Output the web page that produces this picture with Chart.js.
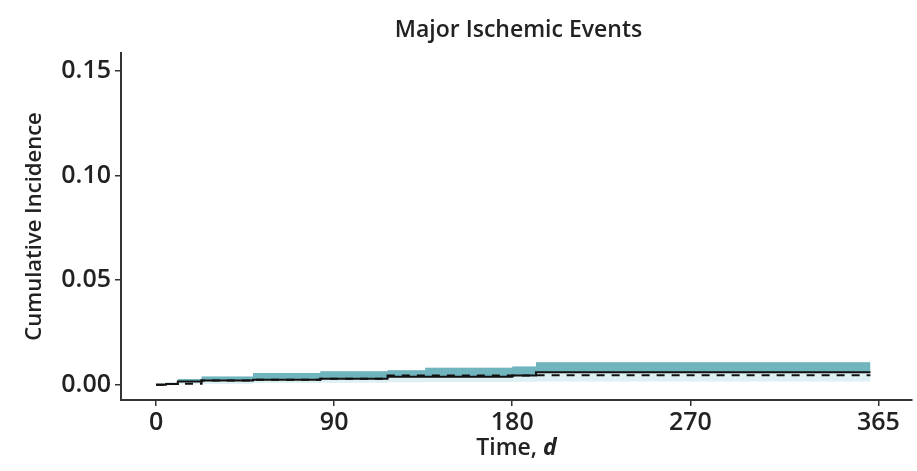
<!DOCTYPE html>
<html>
<head>
<meta charset="utf-8">
<script src="https://cdn.jsdelivr.net/npm/chart.js@4/dist/chart.umd.min.js"></script>
<style>
  html, body { margin: 0; padding: 0; background: #fff; }
  #wrap { width: 917px; height: 471px; }
</style>
</head>
<body>
<div id="wrap"><canvas id="chart" width="917" height="471"></canvas></div>
<script>
// step times (days) shared by all curves
var days = [0, 5, 11, 23, 49, 83, 117, 136, 180, 192, 361];
// cumulative incidence, solid group
var solid = [0, 0.0003, 0.0015, 0.0020, 0.0024, 0.0029, 0.0038, 0.0038, 0.0044, 0.0060, 0.0060];
// cumulative incidence, dashed group
var dashed = [0, 0.0004, 0.0005, 0.0020, 0.0024, 0.0029, 0.0044, 0.0044, 0.0044, 0.0045, 0.0045];
// confidence band
var upper = [0.0005, 0.0010, 0.0028, 0.0040, 0.0056, 0.0064, 0.0069, 0.0081, 0.0087, 0.0108, 0.0108];
var lower = [-0.0003, -0.0002, 0.0002, 0.0004, 0.0008, 0.0010, 0.0012, 0.0013, 0.0014, 0.0016, 0.0016];

var xTicks = [0, 90, 180, 270, 365];
var yTicks = [0, 0.05, 0.10, 0.15];

function pts(vals) {
  return days.map(function (d, i) { return { x: d, y: vals[i] }; });
}

var FONT = "'Open Sans', 'Noto Sans', sans-serif";
var INK = "#222";

var titlesPlugin = {
  id: "titles",
  afterDraw: function (chart) {
    var ctx = chart.ctx;
    var area = chart.chartArea;
    var cx = (area.left + area.right) / 2;
    ctx.save();
    ctx.fillStyle = INK;
    ctx.textBaseline = "middle";
    ctx.textAlign = "center";
    ctx.font = "600 23px " + FONT;
    ctx.fillText("Major Ischemic Events", cx + 2, 30);

    // x axis title with italic d
    ctx.font = "600 23px " + FONT;
    var a = "Time, ";
    var wa = ctx.measureText(a).width;
    ctx.font = "italic 700 23px " + FONT;
    var wb = ctx.measureText("d").width;
    var start = cx - (wa + wb) / 2;
    ctx.textAlign = "left";
    ctx.font = "600 23px " + FONT;
    ctx.fillText(a, start, 448);
    ctx.font = "italic 700 23px " + FONT;
    ctx.fillText("d", start + wa, 448);
    ctx.restore();
  }
};

var ctx = document.getElementById("chart").getContext("2d");
var chart = new Chart(ctx, {
  type: "line",
  data: {
    datasets: [{
      label: "Solid",
      data: pts(solid),
      borderColor: "#111",
      borderWidth: 2,
      stepped: true,
      pointRadius: 0,
      fill: false,
      order: 0
    }, {
      label: "Dashed",
      data: pts(dashed),
      borderColor: "#111",
      borderWidth: 2,
      borderDash: [8, 7],
      stepped: true,
      pointRadius: 0,
      fill: false,
      order: 1
    }, {
      label: "Upper",
      data: pts(upper),
      borderWidth: 0,
      borderColor: "rgba(0,0,0,0)",
      backgroundColor: "rgb(112, 180, 190)",
      stepped: true,
      pointRadius: 0,
      fill: 0,
      order: 2
    }, {
      label: "Lower",
      data: pts(lower),
      borderWidth: 0,
      borderColor: "rgba(0,0,0,0)",
      backgroundColor: "rgb(222, 240, 243)",
      stepped: true,
      pointRadius: 0,
      fill: 2,
      order: 3
    }]
  },
  options: {
    responsive: false,
    animation: false,
    layout: { padding: { top: 53, right: 5, left: 0, bottom: 0 } },
    plugins: {
      legend: { display: false },
      tooltip: { enabled: false },
      title: { display: false }
    },
    scales: {
      x: {
        type: "linear",
        min: -17.7,
        max: 382,
        afterBuildTicks: function (scale) {
          scale.ticks = xTicks.map(function (v) { return { value: v }; });
        },
        afterFit: function (scale) { scale.height = 71; },
        grid: {
          drawOnChartArea: false,
          drawTicks: true,
          tickLength: 6,
          color: "#333",
          lineWidth: 1.5
        },
        border: { display: true, color: "#333", width: 2 },
        ticks: {
          padding: 2,
          color: INK,
          font: { family: FONT, size: 25, weight: "600" },
          maxRotation: 0,
          autoSkip: false
        }
      },
      y: {
        min: -0.0073,
        max: 0.1587,
        afterBuildTicks: function (scale) {
          scale.ticks = yTicks.map(function (v) { return { value: v }; });
        },
        afterFit: function (scale) { scale.width = 121; },
        grid: {
          drawOnChartArea: false,
          drawTicks: true,
          tickLength: 6,
          color: "#333",
          lineWidth: 1.5
        },
        border: { display: true, color: "#333", width: 2 },
        ticks: {
          padding: 4,
          color: INK,
          font: { family: FONT, size: 25, weight: "600" },
          callback: function (v) { return Number(v).toFixed(2); }
        },
        title: {
          display: true,
          text: "Cumulative Incidence",
          color: INK,
          font: { family: FONT, size: 22, weight: "600" },
          padding: { top: 22, bottom: 0 }
        }
      }
    }
  },
  plugins: [titlesPlugin]
});
</script>
</body>
</html>
